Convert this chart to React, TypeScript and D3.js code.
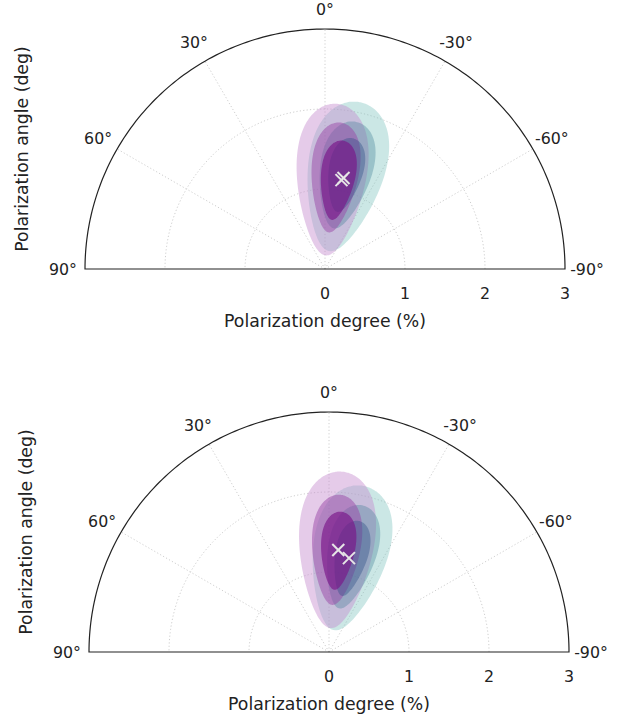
import React from 'react';
import * as d3 from 'd3';

// polar half-plane: angle ticks (deg, positive to the left) and degree ticks (%)
const angleTicks = [90, 60, 30, 0, -30, -60, -90];
const degreeTicks = [0, 1, 2, 3];

// contour levels (outer -> inner):
// [PD centre (%), PA centre (deg), half-length along PD (%), half-width across (%)]
const topPurple = [[1.12, -4, 0.95, 0.43], [1.15, -6, 0.69, 0.29], [1.12, -8, 0.5, 0.21]];
const topTeal = [[1.18, -12, 0.95, 0.47], [1.2, -12, 0.68, 0.32], [1.2, -12, 0.47, 0.21]];
const topBest = [[1.13, -10.5], [1.16, -11.5]];

const bottomPurple = [[1.28, -4, 0.98, 0.46], [1.28, -4, 0.69, 0.3], [1.27, -5, 0.49, 0.21]];
const bottomTeal = [[1.2, -12, 0.92, 0.46], [1.22, -13, 0.66, 0.3], [1.2, -13, 0.48, 0.2]];
const bottomBest = [[1.28, -5.2], [1.2, -12]];

// blunt top, narrow tail toward the origin
const eggShape = 0.3;

const purpleFills = ['#c68ccf', '#9a48a8', '#7a1488'];
const purpleAlpha = [0.45, 0.5, 0.65];
const tealFills = ['#7dc2bd', '#3e7e96', '#2f4f88'];
const tealAlpha = [0.4, 0.35, 0.4];

const font = 'DejaVu Sans, sans-serif';
const R = 240;

const rScale = d3.scaleLinear().domain([0, 3]).range([0, R]);
const toRad = (deg: number) => (-deg * Math.PI) / 180;

const radial = d3
  .lineRadial<[number, number]>()
  .angle(d => toRad(d[1]))
  .radius(d => rScale(d[0]));

const contourPath = (p: number[]) => {
  const [r0, t0, a, b] = p;
  const th = toRad(t0);
  // local frame: along = radial direction at t0, across = perpendicular
  const ux = Math.sin(th), uy = Math.cos(th);
  const vx = Math.cos(th), vy = -Math.sin(th);
  const pts: [number, number][] = d3.range(0, 360, 2).map(deg => {
    const t = (deg * Math.PI) / 180;
    const along = r0 + a * Math.cos(t);
    const across = b * Math.sin(t) * (1 + eggShape * Math.cos(t));
    const x = along * ux + across * vx;
    const y = along * uy + across * vy;
    return [Math.hypot(x, y), (-Math.atan2(x, y) * 180) / Math.PI];
  });
  return radial.curve(d3.curveCatmullRomClosed)(pts) || '';
};

const arcPath = (r: number) =>
  radial.curve(d3.curveLinear)(d3.range(-90, 90.5, 1).map(a => [r, a] as [number, number])) || '';

interface PanelProps {
  cx: number;
  cy: number;
  purple: number[][];
  teal: number[][];
  best: number[][];
}

const Panel: React.FC<PanelProps> = ({ cx, cy, purple, teal, best }) => {
  const layers: { p: number[]; fill: string; op: number }[] = [];
  [0, 1, 2].forEach(i => {
    layers.push({ p: teal[i], fill: tealFills[i], op: tealAlpha[i] });
    layers.push({ p: purple[i], fill: purpleFills[i], op: purpleAlpha[i] });
  });
  return (
    <g transform={`translate(${cx},${cy})`}>
      {/* grid */}
      {[1, 2].map(r => (
        <path key={r} d={arcPath(r)} fill="none" stroke="#cfcfcf" strokeWidth={1} strokeDasharray="1.2 2.2" />
      ))}
      {[60, 30, 0, -30, -60].map(a => (
        <line
          key={a}
          x1={0}
          y1={0}
          x2={R * Math.sin(toRad(a))}
          y2={-R * Math.cos(toRad(a))}
          stroke="#cfcfcf"
          strokeWidth={1}
          strokeDasharray="1.2 2.2"
        />
      ))}
      {/* contours */}
      {layers.map((l, i) => (
        <path key={i} d={contourPath(l.p)} fill={l.fill} fillOpacity={l.op} stroke="none" />
      ))}
      {/* best-fit crosses */}
      {best.map((b, i) => {
        const x = rScale(b[0]) * Math.sin(toRad(b[1]));
        const y = -rScale(b[0]) * Math.cos(toRad(b[1]));
        const s = 6;
        return (
          <g key={i} stroke="#e6e6e6" strokeWidth={2}>
            <line x1={x - s} y1={y - s} x2={x + s} y2={y + s} />
            <line x1={x - s} y1={y + s} x2={x + s} y2={y - s} />
          </g>
        );
      })}
      {/* frame */}
      <path d={arcPath(3) + 'Z'} fill="none" stroke="#222" strokeWidth={1.2} />
      {/* angle labels */}
      {angleTicks.map(a => {
        const lr = a === 0 ? R + 20 : R + 22;
        const x = lr * Math.sin(toRad(a));
        const y = -lr * Math.cos(toRad(a));
        return (
          <text key={a} x={x} y={y} dy="0.35em" textAnchor="middle" fontSize={15.8} fontFamily={font} fill="#222">
            {a}°
          </text>
        );
      })}
      {/* degree ticks */}
      {degreeTicks.map(r => (
        <text key={r} x={rScale(r)} y={24} dy="0.35em" textAnchor="middle" fontSize={15.8} fontFamily={font} fill="#222">
          {r}
        </text>
      ))}
      <text x={0} y={52} dy="0.35em" textAnchor="middle" fontSize={17.3} fontFamily={font} fill="#222">
        Polarization degree (%)
      </text>
      <text
        transform={`translate(${-cx + 22 + (cx - 325)},${-R / 2}) rotate(-90)`}
        dy="0.35em"
        textAnchor="middle"
        fontSize={17.3}
        fontFamily={font}
        fill="#222"
      >
        Polarization angle (deg)
      </text>
    </g>
  );
};

const App: React.FC = () => (
  <svg width={634} height={721} style={{ position: 'absolute', left: 0, top: 0, background: '#fff' }}>
    <Panel cx={325} cy={269} purple={topPurple} teal={topTeal} best={topBest} />
    <Panel cx={329} cy={652} purple={bottomPurple} teal={bottomTeal} best={bottomBest} />
  </svg>
);

export default App;
